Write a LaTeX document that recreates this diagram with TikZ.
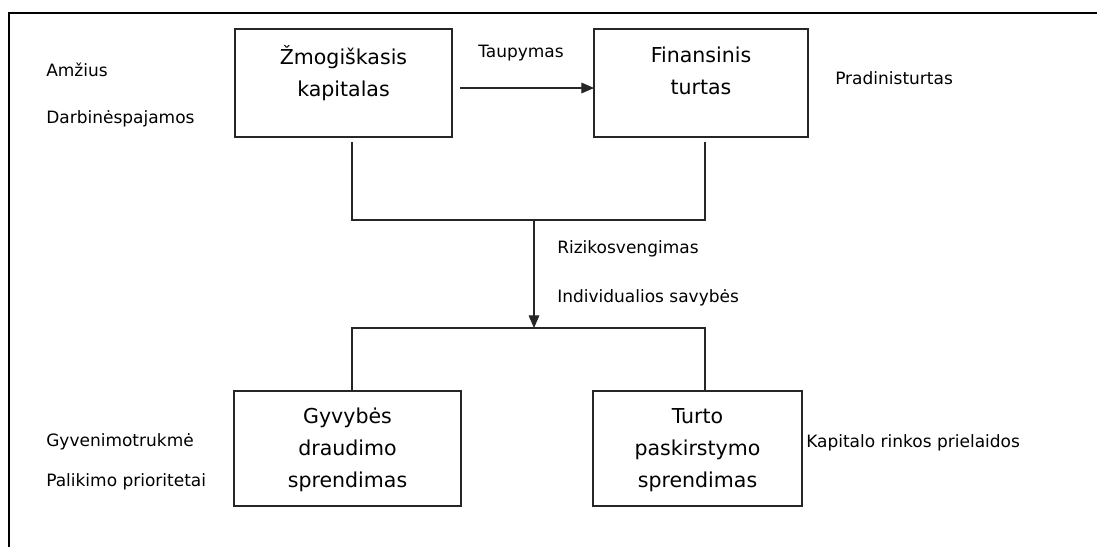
\documentclass[tikz,border=0pt]{standalone}
\usepackage{fontspec}
\setmainfont{DejaVu Sans}
\usetikzlibrary{arrows.meta,calc,fit}
\begin{document}
\begin{tikzpicture}[x=0.75pt,y=-0.75pt,
  box/.style={draw=black!85,line width=0.9pt,inner sep=0pt,outer sep=0pt},
  boxtext/.style={font=\fontsize{15.4}{24}\selectfont,align=center,anchor=base,inner sep=0pt},
  lbl/.style={font=\fontsize{12.75}{15}\selectfont,anchor=base west,inner sep=0pt},
  conn/.style={draw=black!85,line width=0.9pt},
  tip/.style={-{Triangle[length=9.5pt,width=8pt]}}]
\useasboundingbox (0,0) rectangle (1097,547);
% frame
\draw[line width=1.1pt] (9,547) -- (9,13) -- (1097,13);

% boxes
\node[box,fit={(235,29) (452,137)}] (h) {};
\node[box,fit={(594,29) (808,137)}] (f) {};
\node[box,fit={(234,391) (461,506)}] (l) {};
\node[box,fit={(593,391) (802,506)}] (a) {};

% box captions (anchored at the baseline of their last line)
\node[boxtext] (ht) at ($(h.north)+(0,67)$) {Žmogiškasis\\kapitalas};
\node[boxtext] (ft) at ($(f.north)+(0,65)$) {Finansinis\\turtas};
\node[boxtext] (lt) at ($(l.north)+(0,96)$) {Gyvybės\\draudimo\\sprendimas};
\node[boxtext] (at) at ($(a.north)+(0,96)$) {Turto\\paskirstymo\\sprendimas};

% junction points
\coordinate (j1) at (352,220);
\coordinate (j2) at (705,220);
\coordinate (m1) at (534,220);
\coordinate (m2) at (534,328);
\coordinate (k1) at (352,328);
\coordinate (k2) at (705,328);

% connectors
\draw[conn,tip] ($(h.east)+(8,5)$) -- ($(f.west)+(0,5)$);
\draw[conn] ($(h.south -| j1)+(0,5)$) -- (j1) -- (j2) -- ($(f.south -| j2)+(0,5)$);
\draw[conn,tip] (m1) -- (m2);
\draw[conn] (l.north -| k1) -- (k1) -- (k2) -- (a.north -| k2);

% factor labels
\node[lbl] (amz) at (46,76) {Amžius};
\node[lbl] (dp) at (46,123) {Darbinėspajamos};
\node[lbl] (tp) at (478,57) {Taupymas};
\node[lbl] (pt) at (835,84) {Pradinisturtas};
\node[lbl] (rv) at (557,253) {Rizikosvengimas};
\node[lbl] (is) at (557,302) {Individualios savybės};
\node[lbl] (gt) at (46,446) {Gyvenimotrukmė};
\node[lbl] (pp) at (46,486) {Palikimo prioritetai};
\node[lbl] (kr) at (806,447) {Kapitalo rinkos prielaidos};
\end{tikzpicture}
\end{document}
